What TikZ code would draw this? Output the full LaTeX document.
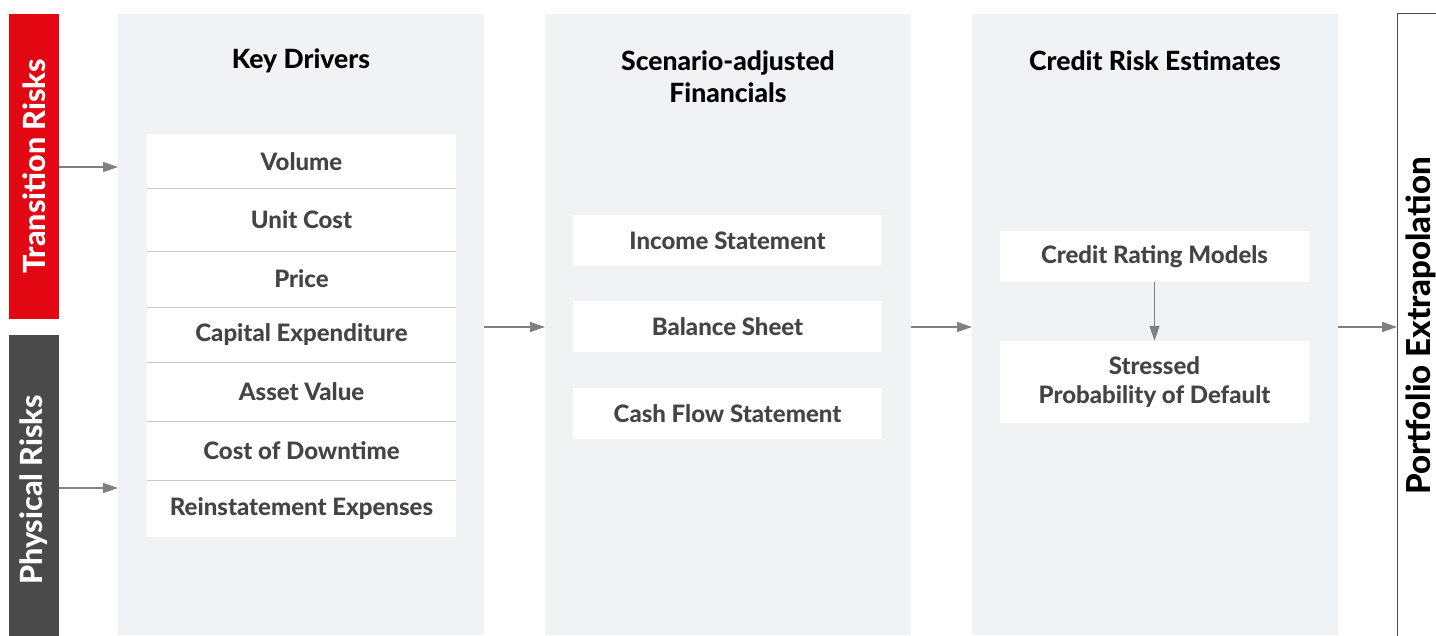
\documentclass[tikz,border=0pt]{standalone}
\usepackage{fontspec}
\IfFontExistsTF{Lato Heavy}
  {\setmainfont{Lato}[BoldFont={Lato Heavy}]}
  {\setmainfont{Lato}}
\usetikzlibrary{arrows.meta}
\definecolor{brandred}{HTML}{E30613}
\definecolor{darkbar}{HTML}{4A4A4A}
\definecolor{panelgray}{HTML}{F1F2F4}
\definecolor{itemtext}{HTML}{444444}
\definecolor{divider}{HTML}{C8C8C8}
\definecolor{arrowgray}{HTML}{808080}
\begin{document}
\begin{tikzpicture}[x=1pt,y=-1pt,
  panel/.style={fill=panelgray, minimum width=366pt, minimum height=621pt, inner sep=0pt, anchor=north west},
  riskbar/.style={rotate=90, inner sep=0pt, text=white, font=\fontsize{30.5}{36}\selectfont\bfseries},
  item/.style={fill=white, minimum width=309pt, inner sep=0pt, font=\fontsize{24}{29}\selectfont\bfseries, text=itemtext, align=center},
  title/.style={font=\fontsize{26.5}{32}\selectfont\bfseries, text=black, align=center},
  flow/.style={draw=arrowgray, line width=1.4pt, -{Triangle[length=15pt,width=10pt]}},
  sep/.style={draw=divider, line width=1.2pt},
]
\useasboundingbox (0,0) rectangle (1436,635);

% side bars for the two risk types
\node[riskbar, fill=brandred, minimum width=305pt, minimum height=50pt] (tr) at (34,166.5) {Transition Risks};
\node[riskbar, fill=darkbar, minimum width=310pt, minimum height=50pt] (pr) at (34,490) {Physical Risks};

% the three stage panels
\node[panel] (p1) at (118,14) {};
\node[panel] (p2) at (545,14) {};
\node[panel] (p3) at (972,14) {};

% outlined box on the right
\node[draw=darkbar, line width=1pt, minimum width=80pt, minimum height=650pt, inner sep=0pt, anchor=north west] (pe) at (1397,13) {};
\node[rotate=90, font=\fontsize{33}{38}\selectfont\bfseries, text=black] (pet) at (1421,326) {Portfolio Extrapolation};

% panel titles
\node[title] (t1) at (301,61) {Key Drivers};
\node[title] (t2) at (728,77) {Scenario-adjusted\\Financials};
\node[title] (t3) at (1155,61) {Credit Risk Estimates};

% key drivers list
\node[item, minimum height=54.5pt] (d1) at (301.5,161.25) {Volume};
\node[item, minimum height=62.5pt] (d2) at (301.5,219.75) {Unit Cost};
\node[item, minimum height=56pt]   (d3) at (301.5,279) {Price};
\node[item, minimum height=55pt]   (d4) at (301.5,334.5) {Capital Expenditure};
\node[item, minimum height=59.5pt] (d5) at (301.5,391.75) {Asset Value};
\node[item, minimum height=59pt]   (d6) at (301.5,451) {Cost of Downtime};
\node[item, minimum height=56.5pt] (d7) at (301.5,508.75) {Reinstatement Expenses};
\foreach \a in {d1,d2,d3,d4,d5,d6}
  \draw[sep] (\a.south west) -- (\a.south east);

% financial statements
\node[item, minimum height=51pt] (f1) at (727.5,240.5) {Income Statement};
\node[item, minimum height=51pt] (f2) at (727.5,326.5) {Balance Sheet};
\node[item, minimum height=51pt] (f3) at (727.5,413.5) {Cash Flow Statement};

% credit risk estimates
\node[item, minimum height=51pt] (c1) at (1154.5,256.5) {Credit Rating Models};
\node[item, minimum height=82pt] (c2) at (1154.5,382) {Stressed\\Probability of Default};

% connectors
\draw[flow] (tr.south |- 0,167) -- (p1.west |- 0,167);
\draw[flow] (pr.south |- 0,488) -- (p1.west |- 0,488);
\draw[flow] (p1.east |- 0,327) -- (p2.west |- 0,327);
\draw[flow] (p2.east |- 0,327) -- (p3.west |- 0,327);
\draw[flow] (p3.east |- 0,327) -- (pe.west |- 0,327);
\draw[flow] (c1.south) -- (c2.north);
\end{tikzpicture}
\end{document}
